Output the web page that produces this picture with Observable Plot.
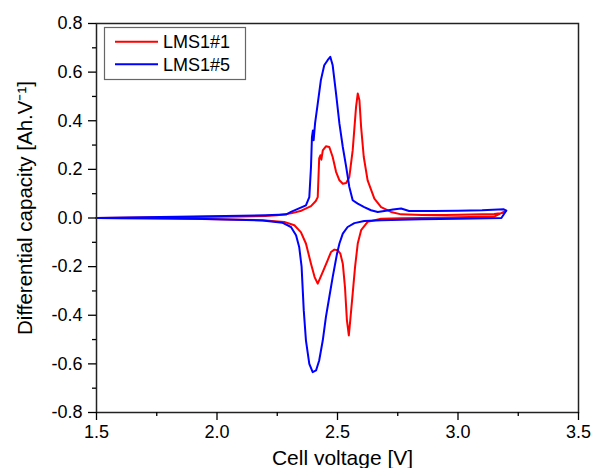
<!DOCTYPE html>
<html>
<head>
<meta charset="utf-8">
<script src="https://cdn.jsdelivr.net/npm/d3@7"></script>
<script src="https://cdn.jsdelivr.net/npm/@observablehq/plot@0.6"></script>
<style>
  html, body { margin: 0; padding: 0; background: white; }
  #chart { width: 593px; height: 468px; overflow: hidden; }
</style>
</head>
<body>
<div id="chart"></div>
<script>
// ---- data ----
const seriesNames = ["LMS1#1", "LMS1#5"];
const seriesColors = ["#ff0000", "#0000ff"];

const xTicks = [1.5, 2.0, 2.5, 3.0, 3.5];
const xMinorTicks = [1.75, 2.25, 2.75, 3.25];
const yTicks = [-0.8, -0.6, -0.4, -0.2, 0.0, 0.2, 0.4, 0.6, 0.8];
const yMinorTicks = [-0.7, -0.5, -0.3, -0.1, 0.1, 0.3, 0.5, 0.7];

// LMS1#1 charge
const redChargeV = [1.50,1.70,1.90,2.10,2.20,2.25,2.307,2.35,2.390,2.410,2.418,2.424,2.429,2.433,2.439,2.452,2.466,2.480,2.494,2.508,2.522,2.536,2.549,2.563,2.577,2.584,2.591,2.598,2.609,2.625,2.653,2.681,2.722,2.764,2.85,2.95,3.05,3.15,3.19,3.20];
const redChargeC = [0.000,0.002,0.004,0.006,0.008,0.011,0.019,0.030,0.049,0.070,0.086,0.245,0.258,0.240,0.278,0.295,0.292,0.251,0.190,0.155,0.141,0.144,0.168,0.278,0.457,0.512,0.484,0.374,0.251,0.155,0.080,0.045,0.025,0.015,0.012,0.012,0.014,0.016,0.022,0.030];
// LMS1#1 discharge
const redDischargeV = [3.20,3.15,3.00,2.85,2.764,2.681,2.625,2.598,2.584,2.573,2.563,2.553,2.547,2.539,2.531,2.522,2.512,2.501,2.487,2.473,2.459,2.439,2.418,2.405,2.390,2.369,2.348,2.321,2.279,2.189,2.00,1.80,1.60,1.50];
const redDischargeC = [0.030,0.006,0.003,0.000,-0.001,-0.003,-0.016,-0.050,-0.105,-0.200,-0.311,-0.420,-0.483,-0.420,-0.284,-0.188,-0.147,-0.133,-0.130,-0.140,-0.174,-0.222,-0.270,-0.243,-0.188,-0.105,-0.058,-0.030,-0.016,-0.009,-0.005,-0.002,-0.001,0.000];

// LMS1#5 charge
const blueChargeV = [1.50,1.70,1.90,2.10,2.20,2.286,2.307,2.369,2.383,2.390,2.394,2.398,2.401,2.407,2.418,2.431,2.445,2.459,2.470,2.480,2.494,2.508,2.522,2.536,2.549,2.563,2.584,2.611,2.639,2.667,2.701,2.730,2.764,2.797,2.90,3.00,3.10,3.19,3.20];
const blueChargeC = [0.000,0.003,0.006,0.009,0.011,0.014,0.025,0.052,0.086,0.210,0.333,0.360,0.320,0.390,0.470,0.567,0.628,0.649,0.663,0.628,0.512,0.388,0.292,0.210,0.128,0.073,0.059,0.045,0.032,0.025,0.030,0.035,0.039,0.029,0.029,0.030,0.032,0.036,0.030];
// LMS1#5 discharge
const blueDischargeV = [3.20,3.18,3.00,2.85,2.764,2.681,2.611,2.570,2.542,2.522,2.508,2.498,2.480,2.466,2.452,2.439,2.424,2.411,2.397,2.383,2.369,2.360,2.351,2.341,2.328,2.307,2.279,2.272,2.189,1.912,1.70,1.50];
const blueDischargeC = [0.030,0.000,-0.003,-0.005,-0.007,-0.009,-0.012,-0.021,-0.037,-0.064,-0.105,-0.147,-0.243,-0.325,-0.407,-0.503,-0.586,-0.627,-0.634,-0.600,-0.503,-0.380,-0.200,-0.119,-0.071,-0.037,-0.023,-0.020,-0.010,-0.003,-0.001,0.000];

const xTitle = "Cell voltage [V]";
const yTitle = "Differential capacity [Ah.V\u207B\u00B9]";

// ---- build table ----
function rows(name, vs, cs) { return vs.map((v, i) => ({series: name, v, c: cs[i]})); }
const data = [
  ...rows(seriesNames[0], redChargeV.concat(redDischargeV), redChargeC.concat(redDischargeC)),
  ...rows(seriesNames[1], blueChargeV.concat(blueDischargeV), blueChargeC.concat(blueDischargeC))
];

const fmt = d => d.toFixed(1);
const font = "'Liberation Sans', Arial, Helvetica, sans-serif";

const chart = Plot.plot({
  width: 593,
  height: 468,
  marginLeft: 96,
  marginRight: 15,
  marginTop: 23,
  marginBottom: 56,
  style: {fontFamily: font, fontSize: "18px", background: "white", color: "black", overflow: "visible"},
  x: {domain: [1.5, 3.5]},
  y: {domain: [-0.8, 0.8]},
  color: {domain: seriesNames, range: seriesColors},
  marks: [
    Plot.line(data, {x: "v", y: "c", z: "series", stroke: "series", strokeWidth: 2, strokeLinejoin: "round"}),
    Plot.frame({stroke: "#222", strokeWidth: 1.5}),
    Plot.axisX({ticks: xTicks, tickSize: 8, tickPadding: 5, tickFormat: fmt, label: null, fontSize: 18, strokeWidth: 1.3}),
    Plot.axisX({ticks: xMinorTicks, tickSize: 4, tickFormat: () => "", label: null, strokeWidth: 1.3}),
    Plot.axisY({ticks: yTicks, tickSize: 8, tickPadding: 6, tickFormat: fmt, label: null, fontSize: 18, strokeWidth: 1.3}),
    Plot.axisY({ticks: yMinorTicks, tickSize: 4, tickFormat: () => "", label: null, strokeWidth: 1.3}),
    Plot.text([xTitle], {frameAnchor: "bottom", dx: 5, dy: 46, fontSize: 21, lineAnchor: "middle", textAnchor: "middle", fill: "black"}),
    Plot.text([yTitle], {frameAnchor: "left", dx: -71, dy: -10, rotate: -90, fontSize: 20.5, lineAnchor: "middle", textAnchor: "middle", fill: "black"})
  ]
});
document.getElementById("chart").appendChild(chart);

// force tick label size
d3.select(chart).selectAll('g[aria-label$="tick label"]').attr("font-size", 18).style("font-size", "18px");

// legend box
const svg = d3.select(chart);
const lg = svg.append("g").attr("font-family", font).attr("font-size", 18).attr("text-anchor", "start");
lg.append("rect").attr("x", 104.5).attr("y", 27.5).attr("width", 141).attr("height", 52)
  .attr("fill", "white").attr("stroke", "#666").attr("stroke-width", 1.2);
seriesNames.forEach((name, i) => {
  const yy = 41.7 + i * 22.6;
  lg.append("line").attr("x1", 115).attr("x2", 158).attr("y1", yy).attr("y2", yy)
    .attr("stroke", seriesColors[i]).attr("stroke-width", 2);
  lg.append("text").attr("x", 163).attr("y", yy).attr("dy", "0.35em").attr("fill", "black").text(name);
});
</script>
</body>
</html>
